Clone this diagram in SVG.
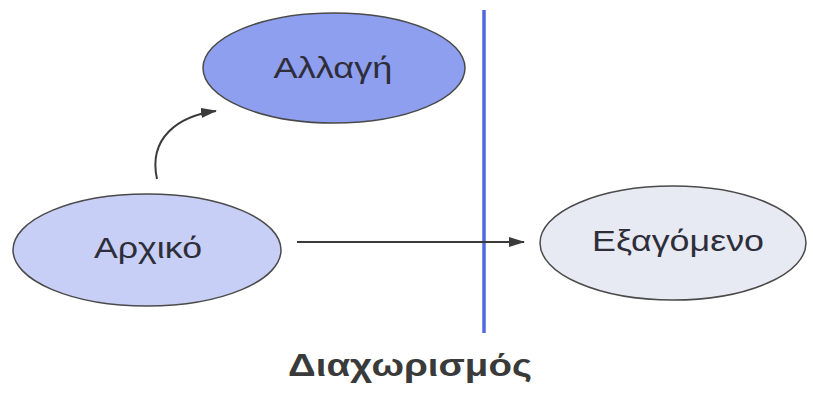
<svg xmlns="http://www.w3.org/2000/svg" width="813" height="394" viewBox="0 0 813 394">
<defs>
<style>
.node{stroke:#4a4a4a;stroke-width:1.5}
.lbl{font-family:"Liberation Sans","Noto Sans",Arial,sans-serif;font-size:29px;fill:#2e2e3a;text-anchor:middle}
.conn{fill:none;stroke:#3a3a3a;stroke-width:2}
.title{font-family:"Liberation Sans","Noto Sans",Arial,sans-serif;font-size:31px;font-weight:bold;fill:#3a3a3a;text-anchor:middle}
</style>
<marker id="arr" viewBox="0 0 16 10" refX="15" refY="5" markerWidth="16" markerHeight="10" markerUnits="userSpaceOnUse" orient="auto">
<path d="M0,0 L16,5 L0,10 Z" fill="#3a3a3a"/>
</marker>
</defs>
<rect width="813" height="394" fill="#ffffff"/>
<line x1="484" y1="10" x2="484" y2="333" stroke="#5068e0" stroke-width="3.5"/>
<g id="connectors">
<path class="conn" d="M157,179 C148,138 178,116 216,111" marker-end="url(#arr)"/>
<line class="conn" x1="297" y1="242" x2="524" y2="242" marker-end="url(#arr)"/>
</g>
<g id="node-allagi">
<ellipse class="node" cx="334" cy="68" rx="131" ry="55" fill="#8e9ff0"/>
<text class="lbl" x="333" y="78" textLength="119" lengthAdjust="spacingAndGlyphs" fill="#2a2a4a">Αλλαγή</text>
</g>
<g id="node-arxiko">
<ellipse class="node" cx="147" cy="250" rx="134" ry="56" fill="#c8cff6"/>
<text class="lbl" x="148" y="258" textLength="108" lengthAdjust="spacingAndGlyphs">Αρχικό</text>
</g>
<g id="node-exagomeno">
<ellipse class="node" cx="673" cy="243" rx="133" ry="57" fill="#e8eaf3"/>
<text class="lbl" x="678" y="251" textLength="172" lengthAdjust="spacingAndGlyphs">Εξαγόμενο</text>
</g>
<text class="title" x="410" y="376" textLength="244" lengthAdjust="spacingAndGlyphs">Διαχωρισμός</text>
</svg>
